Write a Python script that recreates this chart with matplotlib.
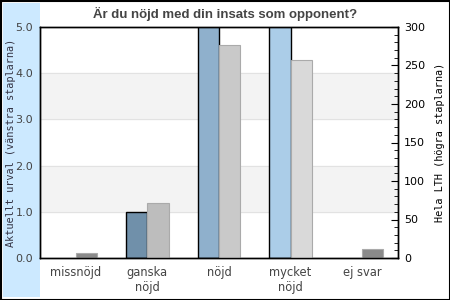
import matplotlib
matplotlib.use('Agg')
import matplotlib.pyplot as plt
from matplotlib.patches import Rectangle
import numpy as np

# kategorier och värden
categories = ['missnöjd', 'ganska\nnöjd', 'nöjd', 'mycket\nnöjd', 'ej svar']
urval = [0, 1.0, 6.0, 5.6, 0]           # vänstra staplarna (klipps vid 5)
hela_lth = [6, 72, 277, 257, 12]        # högra staplarna
urval_colors = ['#7090aa', '#7090aa', '#8fb0cc', '#abcde8', '#7090aa']
lth_colors = ['#8a8a8a', '#bdbdbd', '#c9c9c9', '#d9d9d9', '#8a8a8a']

fig = plt.figure(figsize=(4.5, 3), dpi=100)
fig.patch.set_facecolor('white')

# ljusblått band till vänster och ram runt bilden
fig.add_artist(Rectangle((3 / 450, 3 / 300), 37 / 450, 294 / 300,
                         transform=fig.transFigure, facecolor='#cce9ff',
                         edgecolor='none', zorder=0))
fig.add_artist(Rectangle((0.5 / 450, 0.5 / 300), 449 / 450, 299 / 300,
                         transform=fig.transFigure, facecolor='none',
                         edgecolor='black', linewidth=1.5, zorder=10))

ax = fig.add_axes([40 / 450, 42 / 300, 358 / 450, 231 / 300])
ax2 = ax.twinx()

x = np.arange(len(categories))
w = 0.295

# grå band och rutnät
for lo in [1, 3]:
    ax.axhspan(lo, lo + 1, color='#f3f3f3', zorder=0)
for g in [1, 2, 3, 4]:
    ax.axhline(g, color='#e2e2e2', linewidth=0.8, zorder=0.5)

# rita bara staplar som har ett värde
for i in range(len(categories)):
    if urval[i] > 0:
        ax.bar(x[i] - w / 2, urval[i], width=w, color=urval_colors[i],
               edgecolor='black', linewidth=1.0, zorder=2)
    if hela_lth[i] > 0:
        ax2.bar(x[i] + w / 2, hela_lth[i], width=w, color=lth_colors[i],
                edgecolor='#aaaaaa', linewidth=0.8, zorder=2)

ax.set_xlim(-0.5, len(categories) - 0.5)
ax.set_ylim(0, 5)
ax2.set_ylim(0, 300)

ax.set_yticks(np.arange(0, 5.1, 1.0))
ax.set_yticklabels([f'{v:.1f}' for v in np.arange(0, 5.1, 1.0)])
ax.tick_params(axis='y', length=0, pad=5, labelsize=8, labelcolor='#444444')
ax.set_xticks(x)
ax.set_xticklabels(categories, fontsize=8.3, color='#444444', linespacing=1.15)
ax.tick_params(axis='x', length=0, pad=6)

ax2.set_yticks(np.arange(0, 301, 50))
ax2.set_yticks(np.arange(0, 301, 10), minor=True)
ax2.tick_params(axis='y', which='major', direction='in', length=5, pad=4.5,
                labelsize=8, labelcolor='black')
ax2.tick_params(axis='y', which='minor', direction='in', length=3)

for a in (ax, ax2):
    for s in a.spines.values():
        s.set_color('black')
        s.set_linewidth(1.0)

ax.set_ylabel('Aktuellt urval (vänstra staplarna)', family='DejaVu Sans Mono',
              fontsize=7.4, color='#333344')
ax.yaxis.set_label_coords(-0.068, 0.5)
ax2.set_ylabel('Hela LTH (högra staplarna)', family='DejaVu Sans Mono',
               fontsize=7.4, color='black')
ax2.yaxis.set_label_coords(1.103, 0.5)

fig.text(0.5, 0.955, 'Är du nöjd med din insats som opponent?', ha='center',
         va='center', fontsize=9.5, fontweight='bold', color='#444444',
         family='Liberation Sans')

fig.savefig('out.png', dpi=100)
